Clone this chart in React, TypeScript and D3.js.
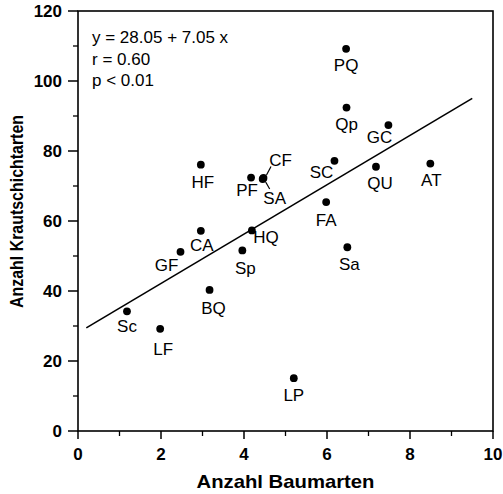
import React from "react";
import * as d3 from "d3";

const labels = ["PQ","Qp","GC","SC","QU","AT","FA","HQ","Sa","LP","HF","CA","GF","Sp","BQ","Sc","LF","PF","CF","SA"];
const xValues = [6.46,6.47,7.48,6.18,7.18,8.49,5.98,4.19,6.49,5.2,2.96,2.96,2.47,3.96,3.17,1.18,1.98,4.17,4.47,4.45];
const yValues = [109.2,92.4,87.4,77.2,75.5,76.4,65.4,57.3,52.5,15.1,76.1,57.2,51.2,51.6,40.3,34.2,29.2,72.4,72.3,72.0];
const xTicks = [0,2,4,6,8,10];
const xMinor = [1,3,5,7,9];
const yTicks = [0,20,40,60,80,100,120];
const yMinor = [10,30,50,70,90,110];
const intercept = 28.05;
const slope = 7.05;
const lineRange = [0.2, 9.5];
const statLines = ["y = 28.05 + 7.05 x", "r = 0.60", "p < 0.01"];

// label offsets (layout only)
const labelOffsets: Record<string, [number, number]> = {
  PQ: [0, 16], Qp: [0, 16], GC: [-9, 12], SC: [-13, 11], QU: [4, 16], AT: [1, 16],
  FA: [0, 18], HQ: [14, 7], Sa: [2, 17], LP: [0, 17], HF: [2, 17], CA: [1, 14],
  GF: [-14, 13], Sp: [3, 18], BQ: [4, 18], Sc: [0, 15], LF: [3, 20], PF: [-4, 12],
  CF: [17, -18], SA: [12, 19],
};

const W = 503, H = 494;
const L = 78, R = 493, T = 11, B = 431;
const font = "'Liberation Sans', Arial, Helvetica, sans-serif";

export default function App() {
  const x = d3.scaleLinear().domain([0, 10]).range([L, R]);
  const y = d3.scaleLinear().domain([0, 120]).range([B, T]);
  const line = d3.line<number>().x((d) => x(d)).y((d) => y(intercept + slope * d));
  return (
    <svg width={W} height={H} style={{ position: "absolute", left: 0, top: 0 }} fontFamily={font}>
      <rect x={0} y={0} width={W} height={H} fill="#fff" />
      <rect x={L} y={T} width={R - L} height={B - T} fill="none" stroke="#000" strokeWidth={1.6} />
      {xTicks.map((t) => (
        <g key={"xt" + t}>
          <line x1={x(t)} x2={x(t)} y1={B} y2={B + 8} stroke="#000" strokeWidth={1.5} />
          <text x={x(t)} y={460} textAnchor="middle" fontSize={17} fontWeight="bold">{t}</text>
        </g>
      ))}
      {xMinor.map((t) => (
        <line key={"xm" + t} x1={x(t)} x2={x(t)} y1={B} y2={B + 5} stroke="#000" strokeWidth={1.3} />
      ))}
      {yTicks.map((t) => (
        <g key={"yt" + t}>
          <line x1={L - 10} x2={L} y1={y(t)} y2={y(t)} stroke="#000" strokeWidth={1.5} />
          <text x={62} y={y(t) + 6} textAnchor="end" fontSize={17} fontWeight="bold">{t}</text>
        </g>
      ))}
      {yMinor.map((t) => (
        <line key={"ym" + t} x1={L - 5} x2={L} y1={y(t)} y2={y(t)} stroke="#000" strokeWidth={1.3} />
      ))}
      <path d={line(lineRange) || ""} fill="none" stroke="#000" strokeWidth={1.6} />
      {labels.map((lab, i) => {
        const px = x(xValues[i]);
        const py = y(yValues[i]);
        const [dx, dy] = labelOffsets[lab];
        return (
          <g key={lab}>
            <circle cx={px} cy={py} r={3.9} fill="#000" />
            <text x={px + dx} y={py + dy + 6} textAnchor="middle" fontSize={17}>{lab}</text>
          </g>
        );
      })}
      {/* leader lines for CF and SA */}
      <line x1={x(xValues[18]) + 3} y1={y(yValues[18]) - 3} x2={x(xValues[18]) + 7.5} y2={y(yValues[18]) - 11.5} stroke="#000" strokeWidth={1.2} />
      <line x1={x(xValues[19]) + 3} y1={y(yValues[19]) + 3} x2={x(xValues[19]) + 7} y2={y(yValues[19]) + 10} stroke="#000" strokeWidth={1.2} />
      {statLines.map((s, i) => (
        <text key={s} x={92} y={43 + i * 21.7} fontSize={17}>{s}</text>
      ))}
      <text x={(L + R) / 2} y={488} textAnchor="middle" fontSize={19} fontWeight="bold" textLength={178} lengthAdjust="spacingAndGlyphs">Anzahl Baumarten</text>
      <text transform={`translate(23,${211.5}) rotate(-90)`} textAnchor="middle" fontSize={19} fontWeight="bold" textLength={193} lengthAdjust="spacingAndGlyphs">Anzahl Krautschichtarten</text>
    </svg>
  );
}
